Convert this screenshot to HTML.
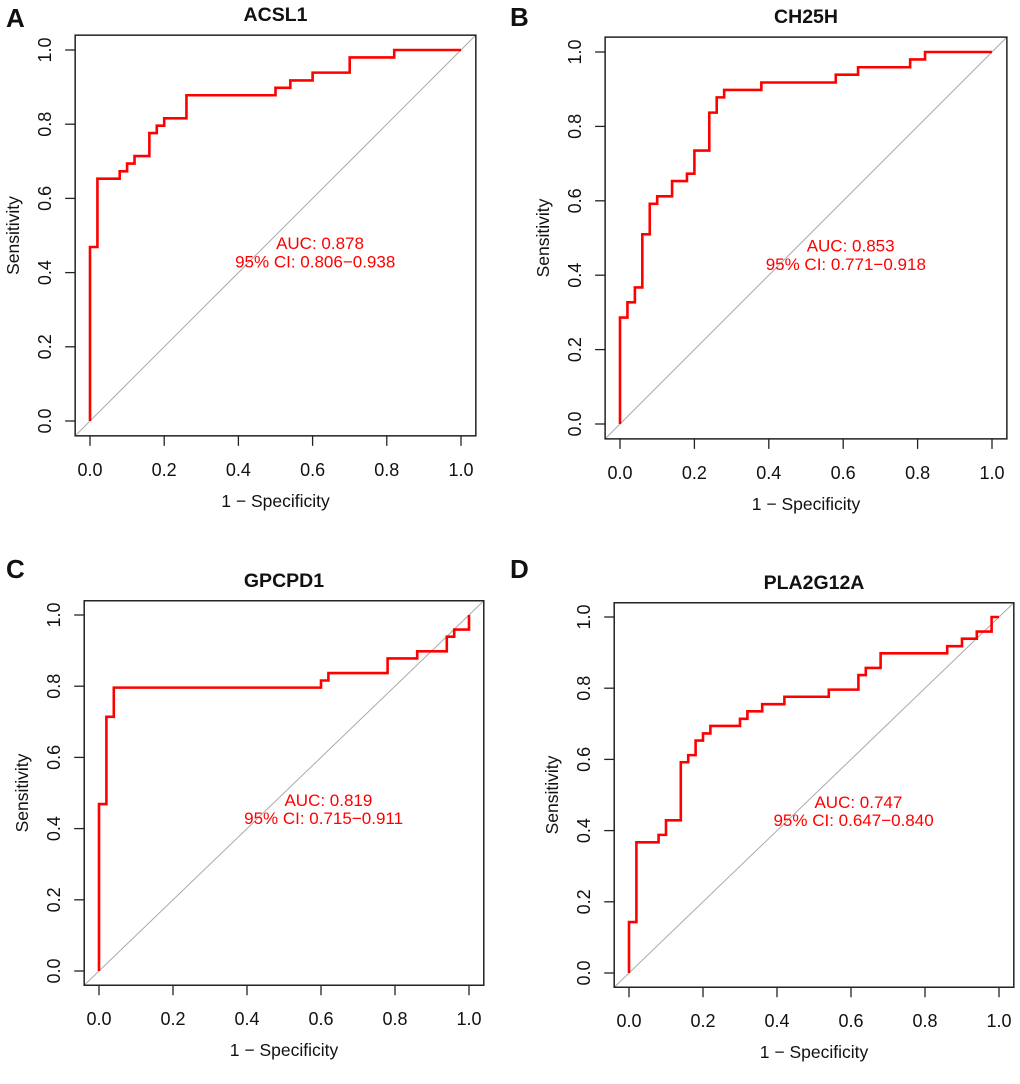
<!DOCTYPE html>
<html><head><meta charset="utf-8">
<style>
html,body{margin:0;padding:0;background:#fff;}
svg{display:block;font-family:"Liberation Sans",Arial,sans-serif;}
</style></head>
<body>
<svg id="fig" width="1020" height="1084" viewBox="0 0 1020 1084" xmlns="http://www.w3.org/2000/svg"></svg>
<script>
// Panel data: step-curve corners (1 - specificity, sensitivity)
const titles = ["ACSL1", "CH25H", "GPCPD1", "PLA2G12A"];
const letters = ["A", "B", "C", "D"];
const aucLabels = ["AUC: 0.878", "AUC: 0.853", "AUC: 0.819", "AUC: 0.747"];
const ciLabels = ["95% CI: 0.806\u22120.938", "95% CI: 0.771\u22120.918", "95% CI: 0.715\u22120.911", "95% CI: 0.647\u22120.840"];
const tickLabels = ["0.0", "0.2", "0.4", "0.6", "0.8", "1.0"];
const tickValues = [0, 0.2, 0.4, 0.6, 0.8, 1.0];

const fprA = [0, 0.02, 0.08, 0.10, 0.12, 0.16, 0.18, 0.20, 0.26, 0.50, 0.54, 0.60, 0.70, 0.82, 1.0];
const tprA = [0.469, 0.653, 0.673, 0.694, 0.714, 0.776, 0.796, 0.816, 0.878, 0.898, 0.918, 0.939, 0.980, 1.0, 1.0];
const fprB = [0, 0.02, 0.04, 0.06, 0.08, 0.10, 0.14, 0.18, 0.20, 0.24, 0.26, 0.28, 0.38, 0.58, 0.64, 0.78, 0.82, 1.0];
const tprB = [0.286, 0.327, 0.367, 0.510, 0.592, 0.612, 0.653, 0.673, 0.735, 0.837, 0.878, 0.898, 0.918, 0.939, 0.959, 0.980, 1.0, 1.0];
const fprC = [0, 0.02, 0.04, 0.60, 0.62, 0.78, 0.86, 0.94, 0.96, 1.0];
const tprC = [0.469, 0.714, 0.796, 0.816, 0.837, 0.878, 0.898, 0.939, 0.959, 1.0];
const fprD = [0, 0.02, 0.08, 0.10, 0.14, 0.16, 0.18, 0.20, 0.22, 0.30, 0.32, 0.36, 0.42, 0.54, 0.62, 0.64, 0.68, 0.86, 0.90, 0.94, 0.98, 1.0];
const tprD = [0.143, 0.367, 0.388, 0.429, 0.592, 0.612, 0.653, 0.673, 0.694, 0.714, 0.735, 0.755, 0.776, 0.796, 0.837, 0.857, 0.898, 0.918, 0.939, 0.959, 1.0, 1.0];

const fprs = [fprA, fprB, fprC, fprD];
const tprs = [tprA, tprB, tprC, tprD];

// layout: pixel x of 0 and 1, pixel y of 0 and 1, letter position
const layouts = [
  {x0: 90, x1: 461, y0: 421, y1: 50, lx: 6, ly: 27},
  {x0: 620, x1: 992, y0: 424, y1: 52, lx: 510, ly: 26},
  {x0: 99, x1: 469, y0: 971, y1: 615, lx: 6, ly: 578},
  {x0: 629, x1: 999, y0: 973, y1: 617, lx: 510, ly: 578}
];

const NS = "http://www.w3.org/2000/svg";
const svg = document.getElementById("fig");
function mk(tag, attrs, parent) {
  const e = document.createElementNS(NS, tag);
  for (const k in attrs) e.setAttribute(k, attrs[k]);
  (parent || svg).appendChild(e);
  return e;
}

layouts.forEach((L, p) => {
  const sx = v => L.x0 + v * (L.x1 - L.x0);
  const sy = v => L.y0 + v * (L.y1 - L.y0);
  const g = mk("g", {});
  
  

  const bl = sx(-0.04), br = sx(1.04), bt = sy(1.04), bb = sy(-0.04);

  // diagonal
  const diag = mk("line", {x1: bl, y1: bb, x2: br, y2: bt, stroke: "#aaaaaa", "stroke-width": 1}, g);
  
  

  // ROC curve
  const fpr = fprs[p], tpr = tprs[p];
  let d = "M" + sx(0) + "," + sy(0);
  for (let i = 0; i < fpr.length; i++) {
    d += " H" + sx(fpr[i]) + " V" + sy(tpr[i]);
  }
  const curve = mk("path", {d: d, fill: "none", stroke: "#ff0000", "stroke-width": 2.6, "stroke-linejoin": "miter"}, g);
  
  

  // box
  const box = mk("rect", {x: bl, y: bt, width: br - bl, height: bb - bt, fill: "none", stroke: "#222", "stroke-width": 1.5}, g);
  
  

  // ticks
  tickValues.forEach((v, i) => {
    const tx = mk("line", {x1: sx(v), y1: bb, x2: sx(v), y2: bb + 10, stroke: "#222", "stroke-width": 1.3}, g);
    
    
    const xl = mk("text", {x: sx(v), y: bb + 40, "text-anchor": "middle", "font-size": 18, fill: "#111"}, g);
    xl.textContent = tickLabels[i];
    
    

    const ty = mk("line", {x1: bl, y1: sy(v), x2: bl - 10, y2: sy(v), stroke: "#222", "stroke-width": 1.3}, g);
    
    
    const yx = bl - 24, yy = sy(v);
    const yl = mk("text", {x: yx, y: yy, "text-anchor": "middle", "font-size": 18, fill: "#111", transform: "rotate(-90 " + yx + " " + yy + ")"}, g);
    yl.textContent = tickLabels[i];
    
    
  });

  // axis titles
  const xt = mk("text", {x: (bl + br) / 2, y: bb + 71, "text-anchor": "middle", "font-size": 17.5, fill: "#111"}, g);
  xt.textContent = "1 \u2212 Specificity";
  
  
  const ax = bl - 56, ay = (bt + bb) / 2;
  const yt = mk("text", {x: ax, y: ay, "text-anchor": "middle", "font-size": 17.5, fill: "#111", transform: "rotate(-90 " + ax + " " + ay + ")"}, g);
  yt.textContent = "Sensitivity";
  
  

  // title
  const tt = mk("text", {x: (bl + br) / 2, y: bt - 14, "text-anchor": "middle", "font-size": 19.5, "font-weight": "bold", fill: "#111"}, g);
  tt.textContent = titles[p];
  
  

  // panel letter
  const lt = mk("text", {x: L.lx, y: L.ly, "font-size": 26, "font-weight": "bold", fill: "#111"}, g);
  lt.textContent = letters[p];
  
  

  // AUC annotation
  const a1 = mk("text", {x: sx(0.62), y: sy(0.48) + 6, "text-anchor": "middle", "font-size": 17, fill: "#ff0000"}, g);
  a1.textContent = aucLabels[p];
  
  
  const a2 = mk("text", {x: sx(0.607), y: sy(0.43) + 6, "text-anchor": "middle", "font-size": 17, fill: "#ff0000"}, g);
  a2.textContent = ciLabels[p];
  
  
});
</script>
</body></html>
